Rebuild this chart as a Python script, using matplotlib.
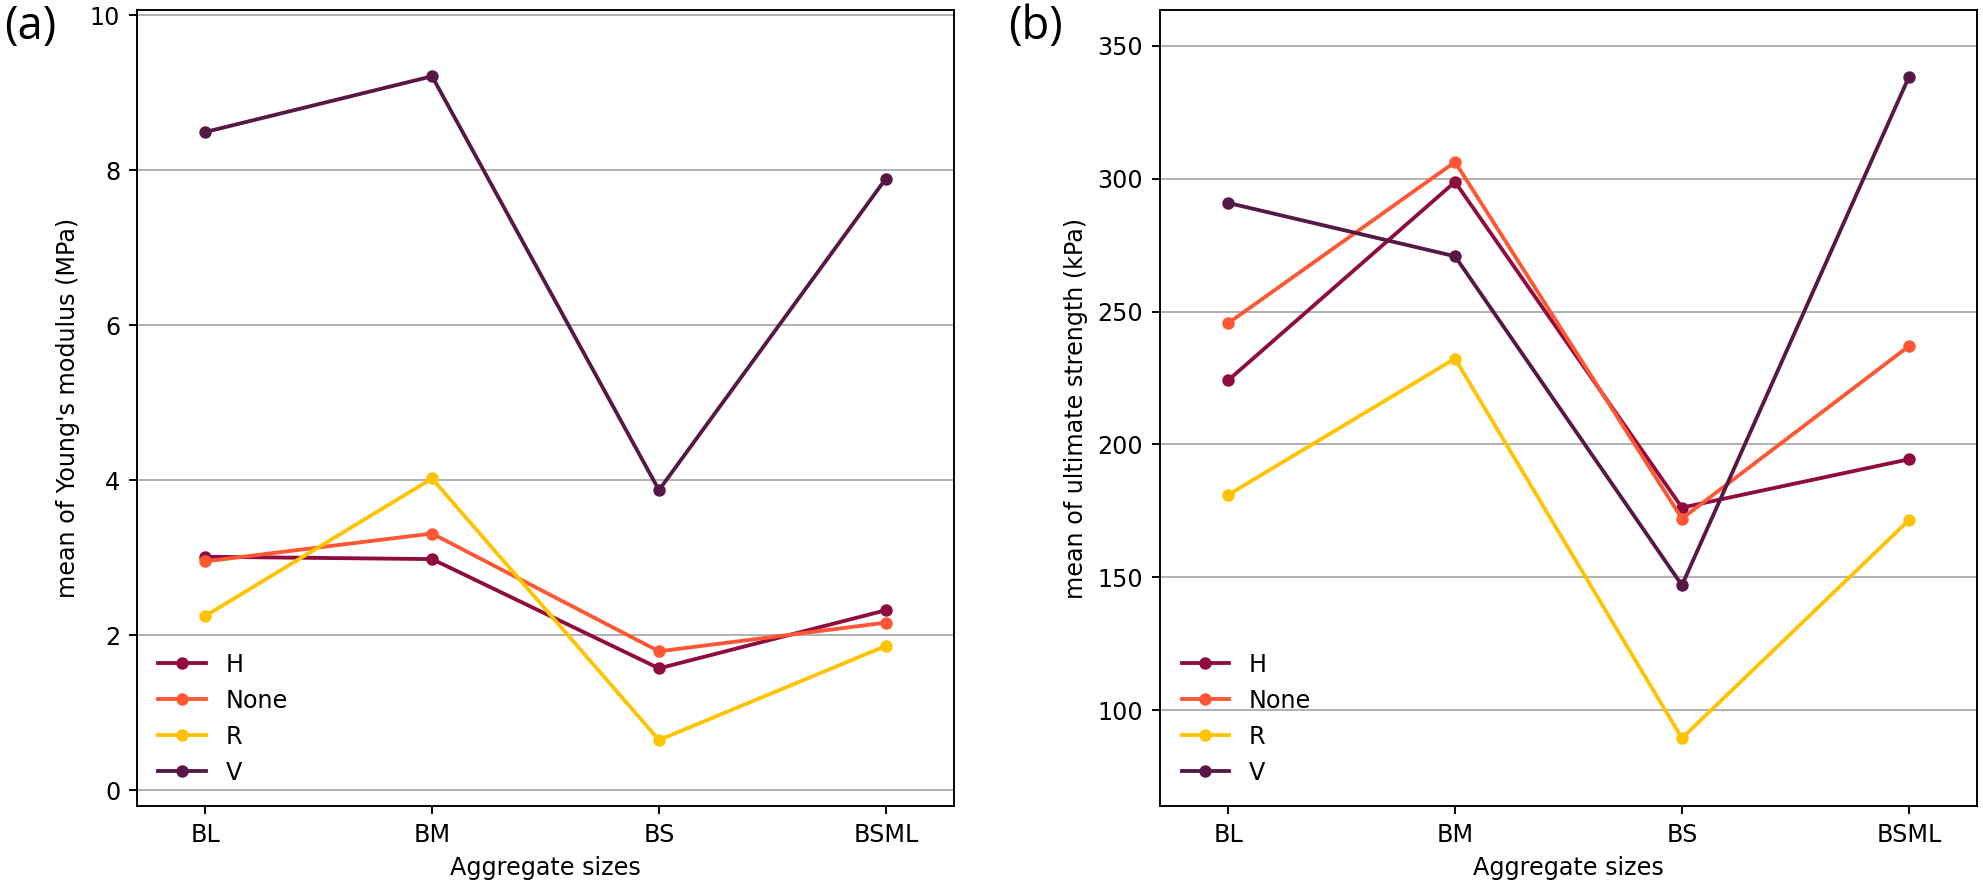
import matplotlib
matplotlib.use("Agg")
import matplotlib.pyplot as plt

sizes = ['BL', 'BM', 'BS', 'BSML']
groups = ['H', 'None', 'R', 'V']
colors = {'H': '#900C3F', 'None': '#FF5733', 'R': '#FFC300', 'V': '#581845'}

# mean Young's modulus (MPa)
young_H = [3.01, 2.98, 1.57, 2.32]
young_None = [2.95, 3.31, 1.79, 2.16]
young_R = [2.245, 4.02, 0.645, 1.86]
young_V = [8.49, 9.21, 3.87, 7.89]

# mean ultimate strength (kPa)
strength_H = [224.1, 298.8, 176.2, 194.4]
strength_None = [245.6, 306.3, 172.1, 237.0]
strength_R = [181.0, 232.3, 89.4, 171.5]
strength_V = [290.9, 270.8, 147.0, 338.3]

young = {'H': young_H, 'None': young_None, 'R': young_R, 'V': young_V}
strength = {'H': strength_H, 'None': strength_None, 'R': strength_R, 'V': strength_V}

DPI = 172
fig = plt.figure(figsize=(1984 / DPI, 888 / DPI), dpi=DPI)

ax1 = fig.add_axes([137 / 1984, 82 / 888, 817 / 1984, 796 / 888])
ax2 = fig.add_axes([1160 / 1984, 82 / 888, 817 / 1984, 796 / 888])


def draw(ax, data, ylabel, ylim):
    x = range(len(sizes))
    for g in groups:
        ax.plot(x, data[g], color=colors[g], marker='o', lw=1.6, ms=4.2, label=g)
    ax.set_xticks(list(x))
    ax.set_xticklabels(sizes)
    ax.set_xlim(-0.3, 3.3)
    ax.set_ylim(*ylim)
    ax.grid(axis='y')
    ax.set_axisbelow(True)
    ax.set_xlabel('Aggregate sizes')
    ax.set_ylabel(ylabel)
    ax.legend(loc='lower left', frameon=False)


draw(ax1, young, "mean of Young's modulus (MPa)", (-0.206, 10.065))
ax1.set_yticks([0, 2, 4, 6, 8, 10])
draw(ax2, strength, 'mean of ultimate strength (kPa)', (63.9, 363.5))
ax2.set_yticks([100, 150, 200, 250, 300, 350])

fig.text(0.002, 0.995, '(a)', family=['Open Sans', 'DejaVu Sans'], fontsize=19, va='top', ha='left')
fig.text(1008 / 1984, 0.995, '(b)', family=['Open Sans', 'DejaVu Sans'], fontsize=19, va='top', ha='left')

fig.savefig('out.png', dpi=DPI)
